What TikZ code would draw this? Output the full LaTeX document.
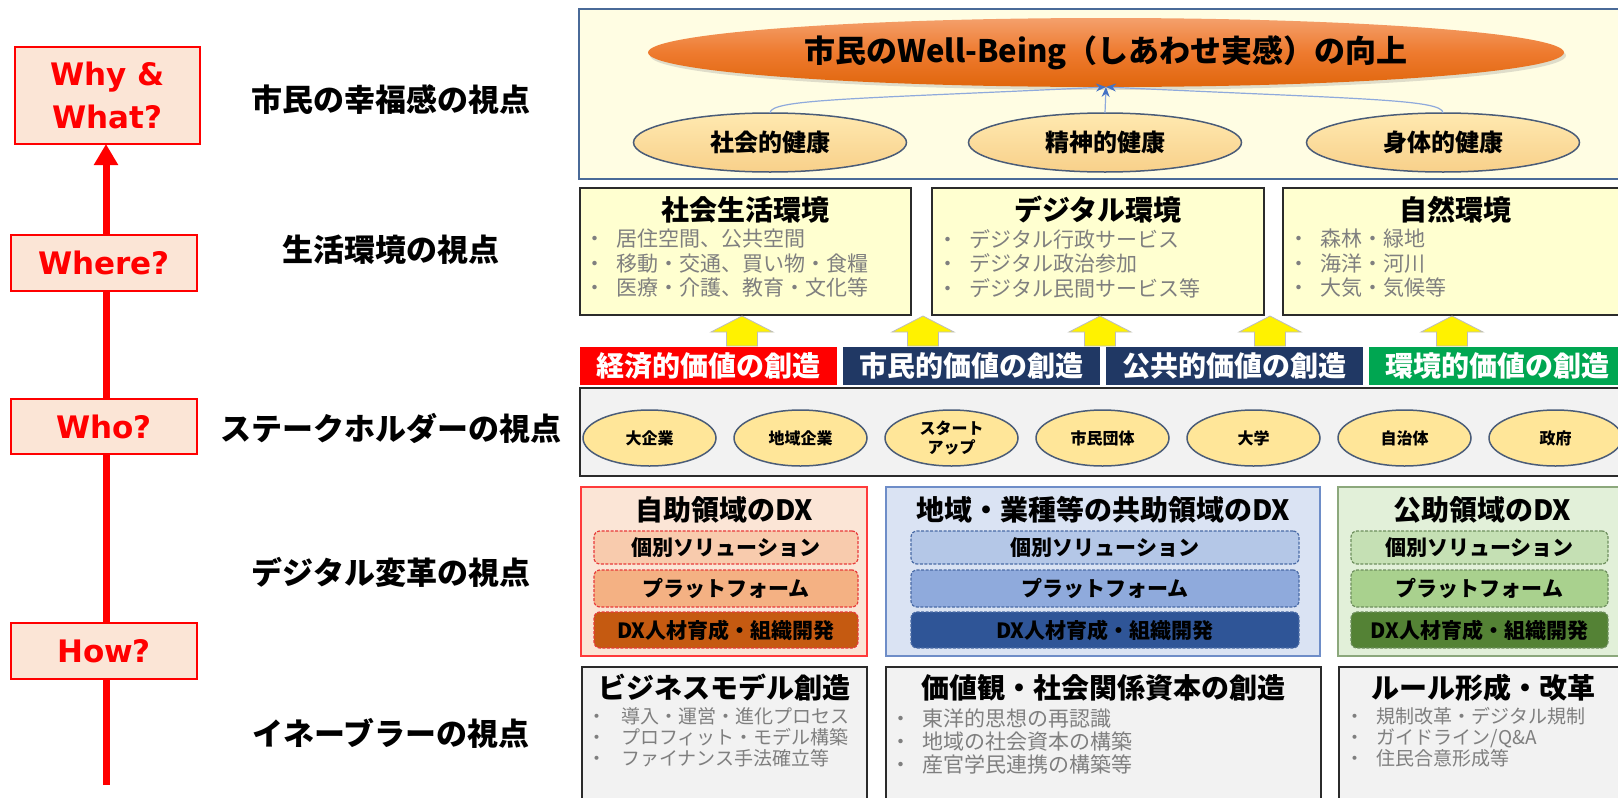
\documentclass[tikz,border=0pt]{standalone}
\usepackage{fontspec}
\setmainfont{Noto Sans CJK JP}
\newfontfamily\latinfont{DejaVu Sans}
\usetikzlibrary{shapes.geometric,arrows.meta,shadows,fit}
\pgfdeclarelayer{background}
\pgfsetlayers{background,main}
\definecolor{panelfill}{HTML}{FFFDE3}
\definecolor{panelline}{HTML}{4A6A98}
\definecolor{envfill}{HTML}{FFFFD0}
\definecolor{boxline}{HTML}{2B2B2B}
\definecolor{greyfill}{HTML}{F2F2F2}
\definecolor{greytext}{HTML}{7F7F7F}
\definecolor{hellA}{HTML}{FFE9B0}
\definecolor{hellB}{HTML}{F8D08A}
\definecolor{sfill}{HTML}{FFE699}
\definecolor{ellline}{HTML}{4A5C78}
\definecolor{connc}{HTML}{8FAADC}
\definecolor{conntip}{HTML}{4472C4}
\definecolor{orangetop}{HTML}{F4A06C}
\definecolor{orangemid}{HTML}{EE7A2E}
\definecolor{orangebot}{HTML}{E0660C}
\definecolor{vred}{HTML}{FF0000}
\definecolor{vnavy}{HTML}{203864}
\definecolor{vgreen}{HTML}{00A651}
\definecolor{qred}{HTML}{FF0000}
\definecolor{qfill}{HTML}{FBE5D6}
\definecolor{yarrowline}{HTML}{BDBDBD}
\definecolor{dAline}{HTML}{FF3B3B}
\definecolor{dAfill}{HTML}{FBE5D6}
\definecolor{dAa}{HTML}{F8CBAD}
\definecolor{dAb}{HTML}{F4B183}
\definecolor{dAc}{HTML}{C55A11}
\definecolor{dAdash}{HTML}{E83A3A}
\definecolor{dBline}{HTML}{6E8DC8}
\definecolor{dBfill}{HTML}{DAE3F3}
\definecolor{dBa}{HTML}{B4C7E7}
\definecolor{dBb}{HTML}{8FAADC}
\definecolor{dBc}{HTML}{2F5597}
\definecolor{dBdash}{HTML}{4A6BA6}
\definecolor{dCline}{HTML}{8CA87C}
\definecolor{dCfill}{HTML}{E2F0D9}
\definecolor{dCa}{HTML}{C5E0B4}
\definecolor{dCb}{HTML}{A9D18E}
\definecolor{dCc}{HTML}{548235}
\definecolor{dCdash}{HTML}{6E8F5E}
\newcommand{\fsz}[2]{\fontsize{#1pt}{#2pt}\selectfont}
\newcommand{\bl}[2][32pt]{\makebox[#1][l]{・}#2}
\begin{document}
\begin{tikzpicture}[x=1pt,y=-1pt,
  every node/.style={inner sep=0pt, outer sep=0pt},
  qbox/.style={rectangle, draw=qred, fill=qfill, line width=1.3pt, text=qred,
    font=\latinfont\bfseries\fsz{31}{43}, align=center},
  redline/.style={line width=7pt, draw=qred, -{Triangle[width=23pt,length=21pt]}},
  lab/.style={font=\bfseries\fsz{31}{36}},
  frame/.style={rectangle, draw=boxline, line width=1.5pt},
  hell/.style={ellipse, draw=ellline, line width=1.5pt, top color=hellA, bottom color=hellB,
    minimum width=273pt, minimum height=59pt, font=\bfseries\fsz{24}{28}},
  sell/.style={ellipse, draw=ellline, line width=1.5pt, fill=sfill,
    minimum width=133pt, minimum height=56pt, font=\bfseries\fsz{16}{19}, align=center},
  conn/.style={draw=connc, line width=1.2pt, -{Stealth[length=10pt,width=8pt,color=conntip]}},
  ttl/.style={font=\bfseries\fsz{28}{32}},
  bul/.style={font=\fsz{21}{24.5}, text=greytext, align=left, anchor=west},
  bulsmall/.style={font=\fsz{19}{21}, text=greytext, align=left, anchor=west},
  bulmid/.style={font=\fsz{21}{23}, text=greytext, align=left, anchor=west},
  vtxt/.style={text=white, font=\bfseries\fsz{28}{32}},
  subbox/.style={rectangle, rounded corners=6pt, dash pattern=on 3pt off 1.5pt, line width=1.2pt},
  subtxt/.style={font=\bfseries\fsz{21}{24}},
  yarrow/.pic={\path[fill=yellow, draw=yarrowline, line width=0.8pt]
    (-15.5,30) -- (-15.5,16) -- (-31,16) -- (0,0) -- (31,16) -- (15.5,16) -- (15.5,30) -- cycle;}
]
\useasboundingbox (0,0) rectangle (1618,798);

% ---------- left column ----------
\node[qbox, minimum width=185pt, minimum height=97pt] (why) at (107.5,95.5) {Why \&\\What?};
\node[qbox, minimum width=186pt, minimum height=56pt] (where) at (104,263) {Where?};
\node[qbox, minimum width=186pt, minimum height=55pt] (who) at (104,426.5) {Who?};
\node[qbox, minimum width=186pt, minimum height=56pt] (how) at (104,651) {How?};
\coordinate (bot) at (106,785);
\begin{pgfonlayer}{background}
\fill[white] (0,0) rectangle (1618,798);
\draw[redline] (bot) -- (bot |- why.south);
\end{pgfonlayer}

\node[lab] (l1) at (391,100) {市民の幸福感の視点};
\node[lab] (l2) at (391,250) {生活環境の視点};
\node[lab] (l3) at (391,428) {ステークホルダーの視点};
\node[lab] (l4) at (391,572) {デジタル変革の視点};
\node[lab] (l5) at (391,733) {イネーブラーの視点};

% ---------- top panel ----------
\node[rectangle, draw=panelline, line width=1.5pt, fill=panelfill, fit={(579,9)(1640,179)}] (toppanel) {};
\node[ellipse, minimum width=916pt, minimum height=69pt, top color=orangetop, bottom color=orangebot,
  middle color=orangemid, drop shadow={opacity=0.25,shadow xshift=2pt,shadow yshift=-3pt},
  font=\bfseries\fsz{31}{36}] (big) at (1106,52.5) {市民のWell-Being（しあわせ実感）の向上};
\node[hell] (h1) at (770,142.5) {社会的健康};
\node[hell] (h2) at (1105,142.5) {精神的健康};
\node[hell] (h3) at (1443,142.5) {身体的健康};
\draw[conn] (h1.north) .. controls +(0,-14) and +(-250,12) .. (big.south);
\draw[conn] (h2.north) -- (big.south);
\draw[conn] (h3.north) .. controls +(0,-14) and +(250,12) .. (big.south);

% ---------- living environment ----------
\node[frame, fill=envfill, fit={(580,188)(911,315)}] (e1) {};
\node[frame, fill=envfill, fit={(932,188)(1264,315)}] (e2) {};
\node[frame, fill=envfill, fit={(1283,188)(1640,315)}] (e3) {};
\node[ttl] (e1t) at (745.5,210) {社会生活環境};
\node[ttl] (e2t) at (1098,210) {デジタル環境};
\node[ttl] (e3t) at (1455,210) {自然環境};
\node[bul] (e1b) at (584.5,263.5) {\bl{居住空間、公共空間}\\\bl{移動・交通、買い物・食糧}\\\bl{医療・介護、教育・文化等}};
\node[bul] (e2b) at (937.5,263.5) {\bl{デジタル行政サービス}\\\bl{デジタル政治参加}\\\bl{デジタル民間サービス等}};
\node[bul] (e3b) at (1288.5,263.5) {\bl{森林・緑地}\\\bl{海洋・河川}\\\bl{大気・気候等}};

% ---------- value bars ----------
\node[rectangle, fill=vred, fit={(580,347)(837,385)}] (v1) {};
\node[rectangle, fill=vnavy, fit={(843,347)(1100,385)}] (v2) {};
\node[rectangle, fill=vnavy, fit={(1106,347)(1363,385)}] (v3) {};
\node[rectangle, fill=vgreen, fit={(1369,347)(1626,385)}] (v4) {};
\node[vtxt] (v1t) at (v1.center) {経済的価値の創造};
\node[vtxt] (v2t) at (v2.center) {市民的価値の創造};
\node[vtxt] (v3t) at (v3.center) {公共的価値の創造};
\node[vtxt] (v4t) at (v4.center) {環境的価値の創造};

\pic at (742,316) {yarrow};
\pic at (923,316) {yarrow};
\pic at (1100,316) {yarrow};
\pic at (1270,316) {yarrow};
\pic at (1452,316) {yarrow};

% ---------- stakeholders ----------
\node[rectangle, draw=boxline, line width=1.8pt, fill=greyfill, fit={(580,388)(1640,476)}] (sp) {};
\node[sell] (s1) at (649.5,438) {大企業};
\node[sell] (s2) at (800.5,438) {地域企業};
\node[sell] (s3) at (951.5,438) {スタート\\アップ};
\node[sell] (s4) at (1102.5,438) {市民団体};
\node[sell] (s5) at (1253.5,438) {大学};
\node[sell] (s6) at (1404.5,438) {自治体};
\node[sell] (s7) at (1555.5,438) {政府};

% ---------- DX ----------
\node[rectangle, draw=dAline, line width=1.2pt, fill=dAfill, fit={(581,487)(867,656)}] (d1) {};
\node[rectangle, draw=dBline, line width=1.2pt, fill=dBfill, fit={(886,487)(1320,656)}] (d2) {};
\node[rectangle, draw=dCline, line width=1.2pt, fill=dCfill, fit={(1338,487)(1640,656)}] (d3) {};
\node[ttl] (d1t) at (724,510) {自助領域のDX};
\node[ttl] (d2t) at (1103,510) {地域・業種等の共助領域のDX};
\node[ttl] (d3t) at (1482,510) {公助領域のDX};

\node[subbox, draw=dAdash, fill=dAa, fit={(594,531)(858,564)}] (d1a) {};
\node[subbox, draw=dAdash, fill=dAb, fit={(594,570)(858,607)}] (d1b) {};
\node[subbox, draw=dAdash, fill=dAc, fit={(594,612)(858,648)}] (d1c) {};
\node[subbox, draw=dBdash, fill=dBa, fit={(911,531)(1299,564)}] (d2a) {};
\node[subbox, draw=dBdash, fill=dBb, fit={(911,570)(1299,607)}] (d2b) {};
\node[subbox, draw=dBdash, fill=dBc, fit={(911,612)(1299,648)}] (d2c) {};
\node[subbox, draw=dCdash, fill=dCa, fit={(1351,531)(1608,564)}] (d3a) {};
\node[subbox, draw=dCdash, fill=dCb, fit={(1351,570)(1608,607)}] (d3b) {};
\node[subbox, draw=dCdash, fill=dCc, fit={(1351,612)(1608,648)}] (d3c) {};
\foreach \c in {1,2,3} {
  \node[subtxt] at (d\c a.center) {個別ソリューション};
  \node[subtxt] at (d\c b.center) {プラットフォーム};
  \node[subtxt] at (d\c c.center) {DX人材育成・組織開発};
}

% ---------- enablers ----------
\node[frame, fill=greyfill, fit={(582,667)(867,810)}] (n1) {};
\node[frame, fill=greyfill, fit={(886,667)(1321,810)}] (n2) {};
\node[frame, fill=greyfill, fit={(1339,667)(1640,810)}] (n3) {};
\node[ttl] (n1t) at (724.5,688) {ビジネスモデル創造};
\node[ttl] (n2t) at (1103.5,688) {価値観・社会関係資本の創造};
\node[ttl] (n3t) at (1483,688) {ルール形成・改革};
\node[bulsmall] (n1b) at (587.5,737) {\bl[33.5pt]{導入・運営・進化プロセス}\\\bl[33.5pt]{プロフィット・モデル構築}\\\bl[33.5pt]{ファイナンス手法確立等}};
\node[bulmid] (n2b) at (890.5,742) {\bl[32.5pt]{東洋的思想の再認識}\\\bl[32.5pt]{地域の社会資本の構築}\\\bl[32.5pt]{産官学民連携の構築等}};
\node[bulsmall] (n3b) at (1345.5,737) {\bl[31.5pt]{規制改革・デジタル規制}\\\bl[31.5pt]{ガイドライン/Q\&A}\\\bl[31.5pt]{住民合意形成等}};
\end{tikzpicture}
\end{document}
